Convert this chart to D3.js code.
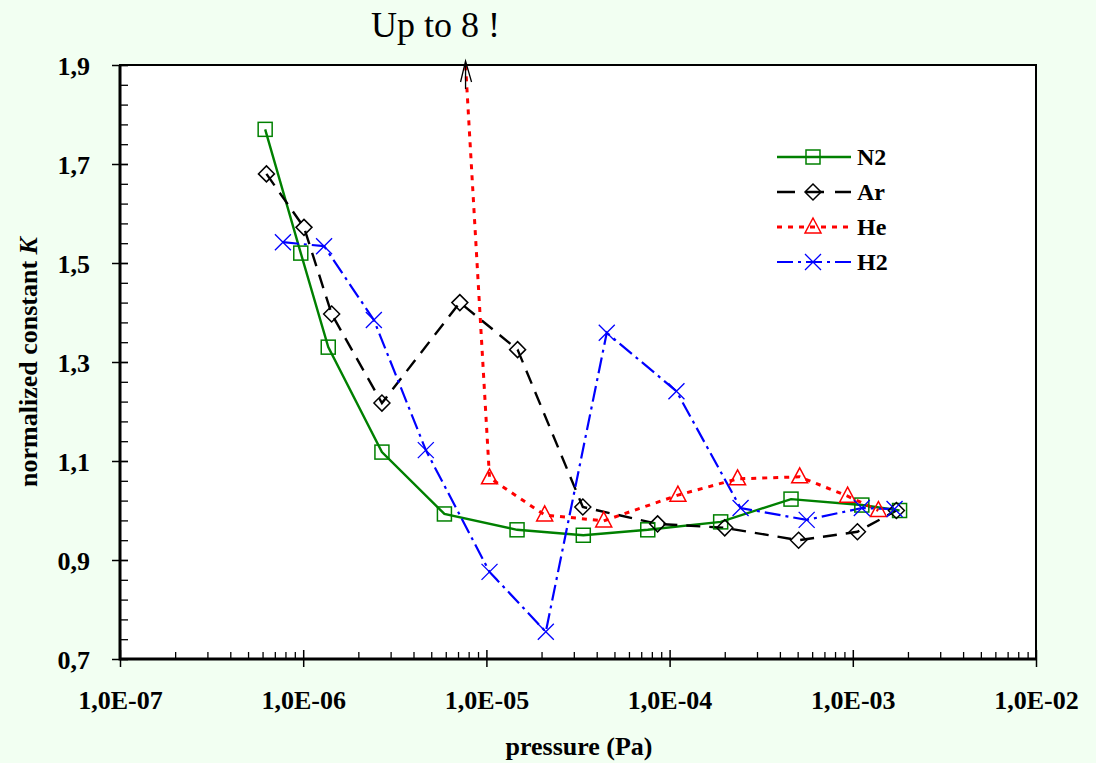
<!DOCTYPE html>
<html lang="en">
  <head>
    <meta charset="utf-8">
    <title>normalized constant K</title>
    <script src="https://d3js.org/d3.v7.min.js"></script>
    <style type="text/css">
        html, body {
          margin: 0;
          padding: 0;
          background: #f2fff2;
        }
        svg {
          display: block;
          font-family: "Liberation Serif", "Times New Roman", serif;
        }
        .tick-label {
          font-weight: bold;
          font-size: 26px;
        }
        .axis-title {
          font-weight: bold;
          font-size: 26px;
        }
        .legend text {
          font-weight: bold;
          font-size: 24px;
        }
    </style>
  </head>
  <body>
    <div id="chart"></div>
    <script>
        // pressure (Pa) and K values
        var n2P = [6.2e-7, 9.7e-7, 1.37e-6, 2.69e-6, 5.9e-6, 1.47e-5, 3.38e-5, 7.6e-5, 1.9e-4, 4.6e-4, 1.12e-3, 1.8e-3];
        var n2K = [1.77, 1.52, 1.33, 1.118, 0.993, 0.961, 0.95, 0.961, 0.977, 1.023, 1.011, 1.0];

        var arP = [6.3e-7, 1.01e-6, 1.43e-6, 2.69e-6, 7.16e-6, 1.48e-5, 3.36e-5, 8.6e-5, 2.0e-4, 5.06e-4, 1.06e-3, 1.73e-3];
        var arK = [1.68, 1.572, 1.397, 1.217, 1.42, 1.325, 1.007, 0.973, 0.965, 0.94, 0.957, 1.0];

        var heP = [8.5e-7, 1.04e-5, 2.08e-5, 4.37e-5, 1.11e-4, 2.35e-4, 5.13e-4, 9.37e-4, 1.38e-3];
        var heK = [8, 1.066, 0.991, 0.979, 1.031, 1.064, 1.068, 1.029, 1.0];

        var h2P = [7.75e-7, 1.30e-6, 2.43e-6, 4.67e-6, 1.04e-5, 2.11e-5, 4.54e-5, 1.09e-4, 2.44e-4, 5.6e-4, 1.12e-3, 1.69e-3];
        var h2K = [1.542, 1.534, 1.385, 1.122, 0.876, 0.755, 1.359, 1.241, 1.005, 0.981, 1.005, 1.003];

        var xTicks = [1e-7, 1e-6, 1e-5, 1e-4, 1e-3, 1e-2];
        var xTickLabels = ["1,0E-07", "1,0E-06", "1,0E-05", "1,0E-04", "1,0E-03", "1,0E-02"];
        var yTicks = [0.7, 0.9, 1.1, 1.3, 1.5, 1.7, 1.9];
        var yTickLabels = ["0,7", "0,9", "1,1", "1,3", "1,5", "1,7", "1,9"];

        var seriesNames = ["N2", "Ar", "He", "H2"];

        var width = 1096, height = 763;
        var margin = {top: 65, right: 60, bottom: 104, left: 120};

        var svg = d3.select("#chart").append("svg")
            .attr("width", width)
            .attr("height", height);

        var x = d3.scaleLog().domain([1e-7, 1e-2]).range([margin.left, width - margin.right]);
        var y = d3.scaleLinear().domain([0.7, 1.9]).range([height - margin.bottom, margin.top]);

        var series = [
          {name: seriesNames[0], p: n2P, k: n2K, color: "#008000", dash: null, width: 2.4, marker: "square"},
          {name: seriesNames[1], p: arP, k: arK, color: "#000000", dash: "14,9", width: 2.4, marker: "diamond"},
          {name: seriesNames[2], p: heP, k: heK, color: "#ff0000", dash: "5,6", width: 3, marker: "triangle"},
          {name: seriesNames[3], p: h2P, k: h2K, color: "#0000ff", dash: "16,5,3,5", width: 2.2, marker: "cross"}
        ];

        // plot area
        svg.append("rect")
            .attr("x", x.range()[0]).attr("y", y.range()[1])
            .attr("width", x.range()[1] - x.range()[0])
            .attr("height", y.range()[0] - y.range()[1])
            .attr("fill", "#ffffff");

        svg.append("clipPath").attr("id", "plot-clip")
          .append("rect")
            .attr("x", x.range()[0]).attr("y", y.range()[1])
            .attr("width", x.range()[1] - x.range()[0])
            .attr("height", y.range()[0] - y.range()[1]);

        // minor / major ticks on x
        var xMinor = [];
        xTicks.slice(0, -1).forEach(function(t) {
          for (var m = 2; m <= 9; m++) xMinor.push(t * m);
        });
        svg.append("g")
            .attr("transform", "translate(0," + y.range()[0] + ")")
            .call(d3.axisBottom(x).tickValues(xMinor).tickSize(0).tickFormat(""))
            .call(function(g) { g.select(".domain").remove(); })
            .selectAll(".tick line")
            .attr("y1", -7).attr("y2", 0).attr("stroke", "#000").attr("stroke-width", 1.3);

        var xMajor = svg.append("g")
            .attr("transform", "translate(0," + y.range()[0] + ")")
            .call(d3.axisBottom(x).tickValues(xTicks).tickSize(0).tickFormat(function(d, i) { return xTickLabels[i]; }))
            .call(function(g) { g.select(".domain").remove(); });
        xMajor.attr("font-size", null).attr("font-family", null);
        xMajor.selectAll(".tick line").attr("y1", -9).attr("y2", 8).attr("stroke", "#000").attr("stroke-width", 1.5);
        xMajor.selectAll(".tick text")
            .attr("class", "tick-label")
            .attr("y", 50).attr("dy", 0)
            .attr("fill", "#000");

        // y ticks
        var yMinor = d3.range(0, 31).map(function(i) { return +(0.7 + i * 0.04).toFixed(2); });
        svg.append("g")
            .attr("transform", "translate(" + x.range()[0] + ",0)")
            .call(d3.axisLeft(y).tickValues(yMinor).tickSize(0).tickFormat(""))
            .call(function(g) { g.select(".domain").remove(); })
            .selectAll(".tick line")
            .attr("x1", 0).attr("x2", 8).attr("stroke", "#000").attr("stroke-width", 1.3);

        var yMajor = svg.append("g")
            .attr("transform", "translate(" + x.range()[0] + ",0)")
            .call(d3.axisLeft(y).tickValues(yTicks).tickSize(0).tickFormat(function(d, i) { return yTickLabels[i]; }))
            .call(function(g) { g.select(".domain").remove(); });
        yMajor.attr("font-size", null).attr("font-family", null);
        yMajor.selectAll(".tick line").attr("x1", -8).attr("x2", 8).attr("stroke", "#000").attr("stroke-width", 1.5);
        yMajor.selectAll(".tick text")
            .attr("class", "tick-label")
            .attr("x", -30).attr("dy", "0.35em")
            .attr("fill", "#000");

        // frame
        svg.append("rect")
            .attr("x", x.range()[0]).attr("y", y.range()[1])
            .attr("width", x.range()[1] - x.range()[0])
            .attr("height", y.range()[0] - y.range()[1])
            .attr("fill", "none").attr("stroke", "#000").attr("stroke-width", 2);
        svg.append("path")
            .attr("d", "M" + x.range()[0] + "," + y.range()[1] + "V" + y.range()[0] + "H" + x.range()[1])
            .attr("fill", "none").attr("stroke", "#000").attr("stroke-width", 3);

        // lines
        var line = d3.line()
            .x(function(d) { return x(d[0]); })
            .y(function(d) { return y(d[1]); });

        var plot = svg.append("g").attr("clip-path", "url(#plot-clip)");

        series.forEach(function(s) {
          s.pts = s.p.map(function(p, i) { return [p, s.k[i]]; });
          plot.append("path")
              .datum(s.pts)
              .attr("d", line)
              .attr("fill", "none")
              .attr("stroke", s.color)
              .attr("stroke-width", s.width)
              .attr("stroke-dasharray", s.dash);
        });

        function drawMarker(g, type, color) {
          if (type === "square") {
            g.append("rect").attr("x", -7).attr("y", -7).attr("width", 14).attr("height", 14)
              .attr("fill", "none").attr("stroke", color).attr("stroke-width", 1.5);
          } else if (type === "diamond") {
            g.append("path").attr("d", "M0,-8L8,0L0,8L-8,0Z")
              .attr("fill", "none").attr("stroke", color).attr("stroke-width", 1.5);
          } else if (type === "triangle") {
            g.append("path").attr("d", "M0,-9L8,6L-8,6Z")
              .attr("fill", "none").attr("stroke", color).attr("stroke-width", 1.5);
          } else {
            g.append("path").attr("d", "M-8,-8L8,8M-8,8L8,-8")
              .attr("fill", "none").attr("stroke", color).attr("stroke-width", 1.3);
          }
        }

        series.forEach(function(s) {
          plot.selectAll(null)
              .data(s.pts.filter(function(d) { return d[1] <= 1.9; }))
              .enter().append("g")
              .attr("transform", function(d) { return "translate(" + x(d[0]) + "," + y(d[1]) + ")"; })
              .each(function() { drawMarker(d3.select(this), s.marker, s.color); });
        });

        // arrow where He leaves the top of the plot
        var he = series[2];
        var pa = [x(he.pts[0][0]), y(he.pts[0][1])], pb = [x(he.pts[1][0]), y(he.pts[1][1])];
        var plotTop = y.range()[1];
        var frac = (pb[1] - plotTop) / (pb[1] - pa[1]);
        var ax = pb[0] + frac * (pa[0] - pb[0]);
        svg.append("path")
            .attr("d", "M" + ax + "," + (plotTop + 24) + "L" + ax + "," + (plotTop - 4) +
                       "M" + (ax - 5) + "," + (plotTop + 17) + "L" + ax + "," + (plotTop - 4) + "L" + (ax + 6) + "," + (plotTop + 17))
            .attr("fill", "none").attr("stroke", "#000").attr("stroke-width", 1.3);

        svg.append("text")
            .attr("x", ax - 30).attr("y", 37)
            .attr("text-anchor", "middle")
            .style("font-size", "36px")
            .text("Up to 8 !");

        // axis titles
        svg.append("text")
            .attr("class", "axis-title")
            .attr("x", (x.range()[0] + x.range()[1]) / 2 + 1).attr("y", 755)
            .attr("text-anchor", "middle")
            .text("pressure (Pa)");

        var yt = svg.append("text")
            .attr("class", "axis-title")
            .attr("transform", "translate(37,362) rotate(-90)")
            .attr("text-anchor", "middle");
        yt.append("tspan").text("normalized constant ");
        yt.append("tspan").style("font-style", "italic").text("K");

        // legend
        var legend = svg.append("g").attr("class", "legend")
            .attr("transform", "translate(777,157)");
        series.forEach(function(s, i) {
          var row = legend.append("g").attr("transform", "translate(0," + (i * 35) + ")");
          row.append("line").attr("x1", 0).attr("x2", 74)
              .attr("stroke", s.color).attr("stroke-width", s.width)
              .attr("stroke-dasharray", s.dash ? (i === 1 ? "18,11" : s.dash) : null);
          var m = row.append("g").attr("transform", "translate(36,0)");
          drawMarker(m, s.marker, s.color);
          row.append("text").attr("x", 80).attr("y", 0).attr("dy", "0.35em").text(s.name);
        });
    </script>
  </body>
</html>
